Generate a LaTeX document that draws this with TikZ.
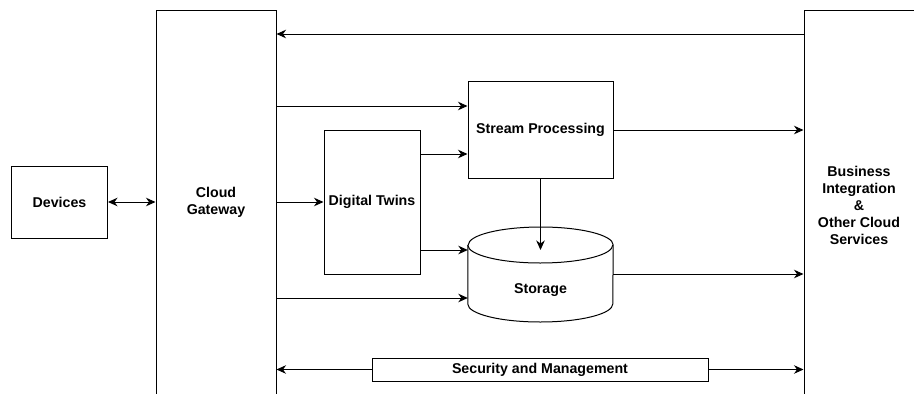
\documentclass[tikz,border=0pt]{standalone}
\usepackage{fontspec}
\setmainfont{Liberation Sans}
\usetikzlibrary{arrows.meta}
\begin{document}
\begin{tikzpicture}[x=1pt,y=-1pt,
  box/.style={draw=black,line width=1pt,fill=white,inner sep=0pt,align=center,
    font=\fontsize{14.2}{17}\selectfont\bfseries},
  tip/.tip={Stealth[length=9.5pt,width=8.5pt,inset=3pt]},
  arr/.style={line width=1pt,-tip},
  darr/.style={line width=1pt,tip-tip},
  lbl/.style={inner sep=0pt,align=center,font=\fontsize{14.2}{17}\selectfont\bfseries}]
\useasboundingbox (0,0) rectangle (914,394);
\clip (0,0) rectangle (914,394);
% nodes
\node[box,minimum width=96pt,minimum height=72pt] (dev) at (59.5,202) {Devices};
\node[box,minimum width=120pt,minimum height=392pt] (gw) at (216,206) {};
\node[lbl] (gwl) at (216,202) {Cloud\\Gateway};
\node[box,minimum width=116pt,minimum height=392pt] (biz) at (862,206) {};
\node[lbl] (bizl) at (859,205) {Business\\Integration\\\&\\Other Cloud\\Services};
\node[box,minimum width=145pt,minimum height=97pt] (sp) at (540.5,130) {Stream Processing};
\node[box,minimum width=96pt,minimum height=144pt] (dt) at (372,202) {Digital Twins};
% storage cylinder
\node[inner sep=0pt,minimum width=145pt,minimum height=95pt] (st) at (540.5,274.5) {};
\draw[line width=1pt,fill=white] (st.west |- 0,245) -- (st.west |- 0,304)
  arc[start angle=180,end angle=360,x radius=72.5pt,y radius=18pt]
  -- (st.east |- 0,245)
  arc[start angle=0,end angle=180,x radius=72.5pt,y radius=18pt];
\draw[line width=1pt] (st.west |- 0,245)
  arc[start angle=180,end angle=360,x radius=72.5pt,y radius=18pt];
\node[lbl] (stl) at (540.5,290) {Storage};
\coordinate (stin) at (540.5,250);
\node[box,minimum width=336pt,minimum height=23pt] (sec) at (540,369.5) {Security and Management};
% connectors
\draw[darr] (dev.east) -- (dev.east -| gw.west);
\draw[arr] (biz.west |- 0,34) -- (gw.east |- 0,34);
\draw[arr] (gw.east |- 0,106) -- (sp.west |- 0,106);
\draw[arr] (gw.east |- 0,202) -- (dt.west |- 0,202);
\draw[arr] (gw.east |- 0,298) -- (st.west |- 0,298);
\draw[arr] (dt.east |- 0,154) -- (sp.west |- 0,154);
\draw[arr] (dt.east |- 0,250) -- (st.west |- 0,250);
\draw[arr] (sp.south) -- (stin);
\draw[arr] (sp.east |- 0,130) -- (biz.west |- 0,130);
\draw[arr] (st.east |- 0,274) -- (biz.west |- 0,274);
\draw[arr] (sec.west) -- (sec.west -| gw.east);
\draw[arr] (sec.east) -- (sec.east -| biz.west);
\end{tikzpicture}
\end{document}
